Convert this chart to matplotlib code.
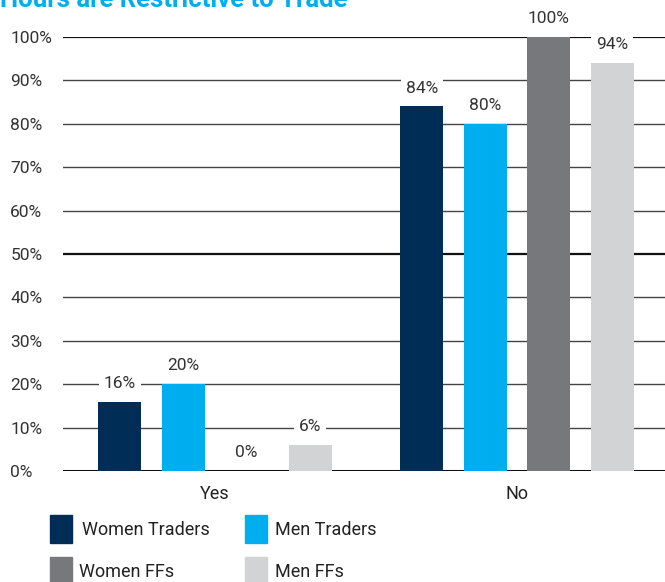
import matplotlib.pyplot as plt
import numpy as np
from matplotlib.patches import Rectangle

plt.rcParams['font.family'] = ['Roboto', 'DejaVu Sans']

categorias = ['Yes', 'No']
series = ['Women Traders', 'Men Traders', 'Women FFs', 'Men FFs']
colores = ['#002D55', '#00AEEF', '#77787B', '#D1D3D4']
valores = [
    [16, 84],   # Women Traders
    [20, 80],   # Men Traders
    [0, 100],   # Women FFs
    [6, 94],    # Men FFs
]
ticks = np.arange(0, 101, 10)

fig = plt.figure(figsize=(6.65, 5.82), dpi=100)
ax = fig.add_axes([63/665, 1 - 471/582, 1 - 63/665, (471 - 37)/582])

x = np.arange(len(categorias))
paso = 0.21
ancho = 0.142
offsets = (np.arange(len(series)) - 1.5) * paso

# lineas horizontales
for t in ticks:
    lw = 2.2 if t == 0 else (1.6 if t in (50, 100) else 1.0)
    col = '#111111' if t in (0, 50, 100) else '#444444'
    ax.axhline(t, color=col, lw=lw, zorder=1)

for i, nombre in enumerate(series):
    barras = ax.bar(x + offsets[i], valores[i], width=ancho, color=colores[i], zorder=2)
    for b, v in zip(barras, valores[i]):
        ax.text(b.get_x() + b.get_width()/2, v + 4.2, f'{v}%', ha='center', va='center',
                fontsize=12.5, color='#333333', zorder=4,
                bbox=dict(facecolor='white', edgecolor='none', pad=3.5))

ax.set_xlim(-0.503, 1.49)
ax.set_ylim(0, 100)
ax.set_yticks(ticks)
ax.set_yticklabels([f'{t}%' for t in ticks], ha='left')
ax.tick_params(axis='y', length=0, pad=38, labelsize=12.5, labelcolor='#333333')
ax.set_xticks(x)
ax.set_xticklabels(categorias)
ax.tick_params(axis='x', length=0, pad=10, labelsize=13, labelcolor='#222222')
for s in ax.spines.values():
    s.set_visible(False)

# titulo (cortado arriba)
fig.text(0.0, 1 - 7/582, 'Hours are Restrictive to Trade', ha='left', va='baseline',
         fontsize=18.5, fontweight='bold', color='#00AEEF')

# leyenda manual
cuadros = [(50, 515, 82), (245, 515, 275), (50, 557, 79), (245, 557, 275)]
for (cx, cy, tx), nombre, col in zip(cuadros, series, colores):
    fig.patches.append(Rectangle((cx/665, 1 - (cy + 28)/582), 22/665, 28/582,
                                 transform=fig.transFigure, color=col))
    fig.text(tx/665, 1 - (cy + 15)/582, nombre, ha='left', va='center',
             fontsize=13, color='#222222')

plt.savefig('out.png', dpi=100)
